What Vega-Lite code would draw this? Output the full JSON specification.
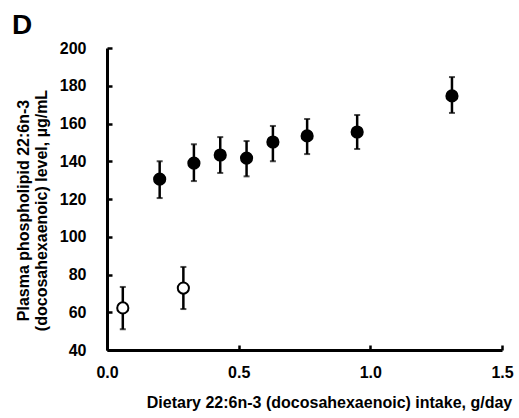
{
  "$schema": "https://vega.github.io/schema/vega-lite/v6.json",
  "autosize": "none",
  "width": 395,
  "height": 302,
  "padding": {"left": 107, "top": 48, "right": 17, "bottom": 68},
  "background": "white",
  "title": {
    "text": "D",
    "anchor": "start",
    "frame": "group",
    "font": "Liberation Sans",
    "fontSize": 28,
    "fontWeight": "bold",
    "color": "black",
    "dx": -95,
    "offset": 0
  },
  "data": {
    "values": [
      {"x": 0.20, "y": 130.5, "lo": 120.5, "hi": 140, "group": "filled"},
      {"x": 0.33, "y": 139, "lo": 129.5, "hi": 149, "group": "filled"},
      {"x": 0.43, "y": 143.3, "lo": 133.8, "hi": 152.8, "group": "filled"},
      {"x": 0.53, "y": 141.7, "lo": 132, "hi": 150.7, "group": "filled"},
      {"x": 0.63, "y": 150.2, "lo": 140, "hi": 158.7, "group": "filled"},
      {"x": 0.76, "y": 153.4, "lo": 143.8, "hi": 162.4, "group": "filled"},
      {"x": 0.95, "y": 155.5, "lo": 146.5, "hi": 164.5, "group": "filled"},
      {"x": 1.31, "y": 174.6, "lo": 165.6, "hi": 184.6, "group": "filled"},
      {"x": 0.06, "y": 62.3, "lo": 51, "hi": 73.4, "group": "open"},
      {"x": 0.29, "y": 72.8, "lo": 61.7, "hi": 84, "group": "open"}
    ]
  },
  "config": {
    "view": {"stroke": null},
    "axis": {
      "domainColor": "black",
      "domainWidth": 3,
      "tickColor": "black",
      "tickWidth": 2.5,
      "tickSize": -5,
      "grid": false,
      "labelFont": "Liberation Sans",
      "labelFontSize": 16,
      "labelFontWeight": "bold",
      "labelColor": "black",
      "labelOverlap": false,
      "titleFont": "Liberation Sans",
      "titleFontSize": 16,
      "titleFontWeight": "bold",
      "titleColor": "black"
    }
  },
  "encoding": {
    "x": {
      "field": "x",
      "type": "quantitative",
      "scale": {"domain": [0, 1.5], "nice": false, "zero": false},
      "axis": {
        "title": "Dietary 22:6n-3 (docosahexaenoic) intake, g/day",
        "values": [0, 0.5, 1.0, 1.5],
        "format": ".1f",
        "labelOverlap": false,
        "labelPadding": 19,
        "titlePadding": 14,
        "titleX": 222,
        "labelFlush": false
      }
    }
  },
  "layer": [
    {
      "mark": {"type": "rule", "color": "black", "strokeWidth": 2.5},
      "encoding": {
        "y": {
          "field": "lo",
          "type": "quantitative",
          "scale": {"domain": [40, 200], "nice": false, "zero": false},
          "axis": {
            "title": ["Plasma phospholipid 22:6n-3", "(docosahexaenoic) level, µg/mL"],
            "values": [40, 60, 80, 100, 120, 140, 160, 180, 200],
            "tickCount": 9,
            "labelOverlap": false,
            "labelPadding": 26,
            "titlePadding": 10,
            "titleY": 162,
            "titleLineHeight": 18
          }
        },
        "y2": {"field": "hi"}
      }
    },
    {
      "mark": {"type": "tick", "color": "black", "orient": "horizontal", "size": 6, "thickness": 2},
      "encoding": {"y": {"field": "lo", "type": "quantitative"}}
    },
    {
      "mark": {"type": "tick", "color": "black", "orient": "horizontal", "size": 6, "thickness": 2},
      "encoding": {"y": {"field": "hi", "type": "quantitative"}}
    },
    {
      "mark": {"type": "point", "shape": "circle", "size": 125, "strokeWidth": 2, "opacity": 1},
      "encoding": {
        "y": {"field": "y", "type": "quantitative"},
        "fill": {
          "field": "group",
          "type": "nominal",
          "scale": {"domain": ["filled", "open"], "range": ["black", "white"]},
          "legend": null
        },
        "stroke": {"value": "black"}
      }
    }
  ]
}
